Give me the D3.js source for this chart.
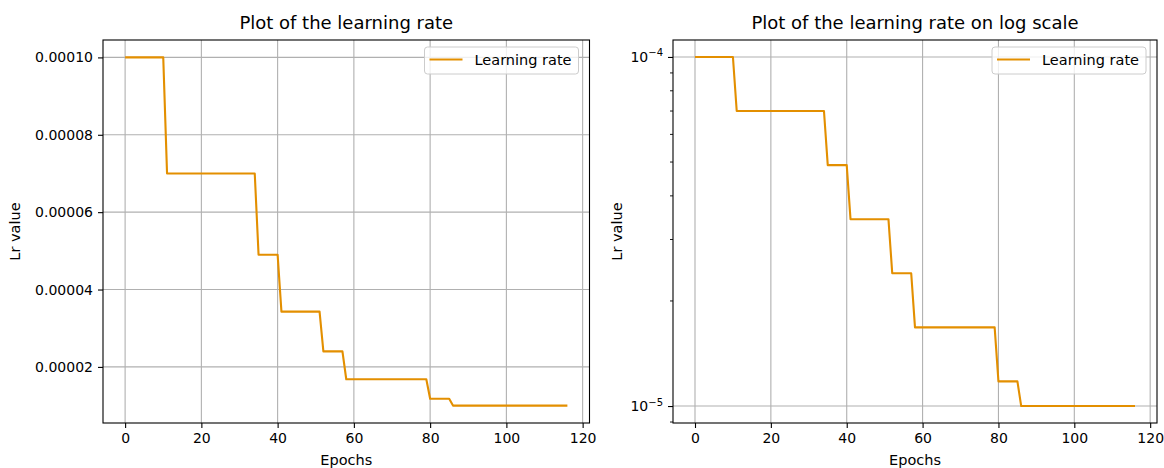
<!DOCTYPE html>
<html>
<head>
<meta charset="utf-8">
<script src="https://d3js.org/d3.v7.min.js"></script>
<style>
  body { margin: 0; background: #fff; }
  text { font-family: "DejaVu Sans", sans-serif; fill: #000; }
</style>
</head>
<body>
<svg></svg>
<script>
// learning-rate schedule (one flat step per block)
var stepStart = [0, 11, 35, 41, 52, 58, 80, 86];
var stepEnd   = [10, 34, 40, 51, 57, 79, 85, 116];
var lrValues  = [1e-4, 7e-5, 4.9e-5, 3.43e-5, 2.401e-5, 1.6807e-5, 1.17649e-5, 1e-5];

var xTicks = [0, 20, 40, 60, 80, 100, 120];
var yTicksLin = [0.00002, 0.00004, 0.00006, 0.00008, 0.00010];
var yTickLabelsLin = ["0.00002", "0.00004", "0.00006", "0.00008", "0.00010"];
var yTicksLog = [1e-5, 1e-4];
var yTickExpLog = ["\u22125", "\u22124"];

var lineColor = "#e38f00";
var gridColor = "#b0b0b0";

var points = [];
stepStart.forEach(function(s, i) {
    points.push([s, lrValues[i]]);
    points.push([stepEnd[i], lrValues[i]]);
});

var svg = d3.select("svg")
    .attr("width", 1164)
    .attr("height", 468);

function panel(opt) {
    var x = d3.scaleLinear().domain([-5.8, 121.8]).range([opt.left, opt.right]);
    var y = opt.y;
    var g = svg.append("g");

    // grid
    g.selectAll(".gx").data(xTicks).enter().append("line")
        .attr("x1", function(d) { return x(d); }).attr("x2", function(d) { return x(d); })
        .attr("y1", opt.top).attr("y2", opt.bottom)
        .attr("stroke", gridColor).attr("stroke-width", 1.1);
    g.selectAll(".gy").data(opt.yTicks).enter().append("line")
        .attr("y1", function(d) { return y(d); }).attr("y2", function(d) { return y(d); })
        .attr("x1", opt.left).attr("x2", opt.right)
        .attr("stroke", gridColor).attr("stroke-width", 1.1);

    // the line
    g.append("path")
        .datum(points)
        .attr("fill", "none")
        .attr("stroke", lineColor)
        .attr("stroke-width", 2.1)
        .attr("stroke-linejoin", "round")
        .attr("d", d3.line().x(function(d) { return x(d[0]); }).y(function(d) { return y(d[1]); }));

    // frame
    g.append("rect")
        .attr("x", opt.left).attr("y", opt.top)
        .attr("width", opt.right - opt.left).attr("height", opt.bottom - opt.top)
        .attr("fill", "none").attr("stroke", "#000").attr("stroke-width", 1.1);

    // x axis
    var xa = g.append("g")
        .attr("transform", "translate(0," + opt.bottom + ")")
        .call(d3.axisBottom(x).tickValues(xTicks).tickSize(5).tickPadding(5));
    xa.attr("font-size", null).attr("font-family", null);
    xa.select(".domain").remove();
    xa.selectAll("line").attr("stroke", "#000").attr("stroke-width", 1.1);
    xa.selectAll("text").style("font-size", "14px").attr("fill", "#000");

    // y axis
    var ya = g.append("g")
        .attr("transform", "translate(" + opt.left + ",0)")
        .call(d3.axisLeft(y).tickValues(opt.yTicks).tickSize(5).tickPadding(5)
            .tickFormat(function(d, i) { return opt.yLabels ? opt.yLabels[i] : ""; }));
    ya.attr("font-size", null).attr("font-family", null);
    ya.select(".domain").remove();
    ya.selectAll("line").attr("stroke", "#000").attr("stroke-width", 1.1);
    ya.selectAll("text").style("font-size", "14px").attr("fill", "#000");

    if (opt.yExp) {
        ya.selectAll(".tick text").each(function(d, i) {
            var t = d3.select(this);
            t.text("10");
            t.append("tspan")
                .style("font-size", "10px")
                .attr("dy", "-0.55em")
                .text(opt.yExp[i]);
        });
        // minor ticks
        var minor = y.ticks().filter(function(d) { return opt.yTicks.indexOf(d) < 0; });
        g.selectAll(".minor").data(minor).enter().append("line")
            .attr("x1", opt.left - 3).attr("x2", opt.left)
            .attr("y1", function(d) { return y(d); }).attr("y2", function(d) { return y(d); })
            .attr("stroke", "#000").attr("stroke-width", 0.9);
    }

    // titles
    var cx = (opt.left + opt.right) / 2;
    svg.append("text")
        .attr("x", cx).attr("y", 29)
        .attr("text-anchor", "middle")
        .style("font-size", "18px")
        .text(opt.title);
    svg.append("text")
        .attr("x", cx).attr("y", 465)
        .attr("text-anchor", "middle")
        .style("font-size", "14.5px")
        .text("Epochs");
    svg.append("text")
        .attr("transform", "translate(" + opt.ylabelX + "," + ((opt.top + opt.bottom) / 2) + ") rotate(-90)")
        .attr("text-anchor", "middle")
        .style("font-size", "14.5px")
        .text("Lr value");

    // legend
    var lg = svg.append("g").attr("transform", "translate(" + (opt.right - 165) + "," + (opt.top + 7) + ")");
    lg.append("rect")
        .attr("width", 154).attr("height", 27).attr("rx", 3)
        .attr("fill", "#fff").attr("fill-opacity", 0.8)
        .attr("stroke", "#cccccc").attr("stroke-width", 1);
    lg.append("line")
        .attr("x1", 5).attr("x2", 38).attr("y1", 12.5).attr("y2", 12.5)
        .attr("stroke", lineColor).attr("stroke-width", 2.1);
    lg.append("text")
        .attr("x", 50).attr("y", 18)
        .style("font-size", "14.5px")
        .text("Learning rate");
}

panel({
    left: 103, right: 589.5, top: 40, bottom: 423,
    y: d3.scaleLinear().domain([0.55e-5, 1.045e-4]).range([423, 40]),
    yTicks: yTicksLin, yLabels: yTickLabelsLin,
    title: "Plot of the learning rate", ylabelX: 20
});

panel({
    left: 673, right: 1157, top: 40, bottom: 423,
    y: d3.scaleLog().domain([Math.pow(10, -5.05), Math.pow(10, -3.95)]).range([423.5, 39.5]),
    yTicks: yTicksLog, yExp: yTickExpLog,
    title: "Plot of the learning rate on log scale", ylabelX: 622
});
</script>
</body>
</html>
